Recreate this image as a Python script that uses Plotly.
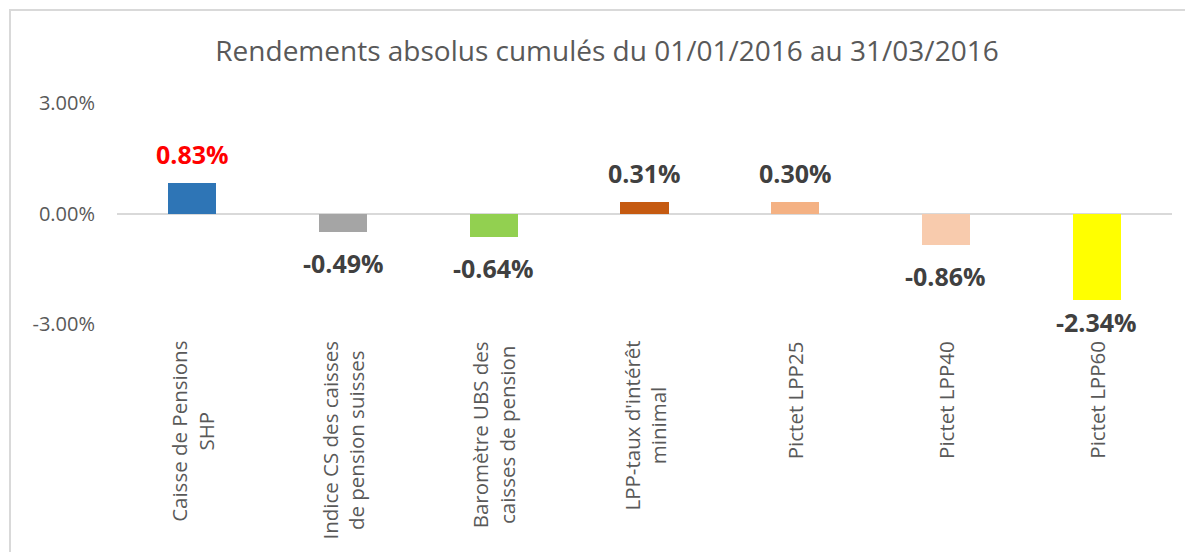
import plotly.graph_objects as go

categories = [
    "Caisse de Pensions<br>SHP",
    "Indice CS des caisses<br>de pension suisses",
    "Baromètre UBS des<br>caisses de pension",
    "LPP-taux d'intérêt<br>minimal",
    "Pictet LPP25",
    "Pictet LPP40",
    "Pictet LPP60",
]
values = [0.83, -0.49, -0.64, 0.31, 0.30, -0.86, -2.34]
colors = ["#2E75B6", "#A5A5A5", "#92D050", "#C55A11", "#F4B183", "#F8CBAD", "#FFFF00"]
label_colors = ["#FF0000", "#404040", "#404040", "#404040", "#404040", "#404040", "#404040"]
y_ticks = [-3, 0, 3]
y_tick_labels = ["-3.00%", "0.00%", "3.00%"]

W, H = 1185, 552
L, R, T, B = 117, 13, 103, 228
FONT = "Open Sans"

x_idx = list(range(len(categories)))

fig = go.Figure()
fig.add_trace(go.Bar(
    x=x_idx, y=values, marker=dict(color=colors, line=dict(width=0)),
    width=0.32, hoverinfo="skip",
))

annotations = []
for i, (v, c) in enumerate(zip(values, label_colors)):
    annotations.append(dict(
        x=i, y=v, xref="x", yref="y",
        text=f"{v:.2f}%", showarrow=False,
        font=dict(family=FONT, size=25, color=c, weight="bold"),
        yanchor="bottom" if v >= 0 else "top",
        yshift=10 if v >= 0 else (-12 if v > -2 else -3),
    ))
for i, cat in enumerate(categories):
    annotations.append(dict(
        x=i, y=0, xref="x", yref="paper",
        text=cat, showarrow=False, textangle=-90, align="center",
        font=dict(family=FONT, size=20.5, color="#595959"),
        yanchor="top", xanchor="center", yshift=-15,
    ))

plot_w = W - L - R
plot_h = H - T - B
fig.update_layout(
    width=W, height=H,
    margin=dict(l=L, r=R, t=T, b=B, autoexpand=False),
    paper_bgcolor="white", plot_bgcolor="white",
    showlegend=False,
    bargap=0,
    title=dict(
        text="Rendements absolus cumulés du 01/01/2016 au 31/03/2016",
        x=607 / W, xanchor="center", xref="container",
        y=1 - 51 / H, yanchor="middle", yref="container",
        font=dict(family=FONT, size=28, color="#595959"),
    ),
    xaxis=dict(
        range=[-0.5, len(categories) - 0.5],
        showticklabels=False, showgrid=False, zeroline=False, showline=False,
        fixedrange=True,
    ),
    yaxis=dict(
        range=[-3, 3], tickvals=y_ticks, ticktext=y_tick_labels,
        showgrid=True, gridcolor="#D9D9D9", gridwidth=2,
        zeroline=False, showline=False,
        tickfont=dict(family=FONT, size=20, color="#595959"),
        ticklabelstandoff=21,
    ),
    annotations=annotations,
    shapes=[dict(
        type="rect", xref="paper", yref="paper",
        x0=(10 - L) / plot_w, x1=(W + 50 - L) / plot_w,
        y0=(H - B - (H + 50)) / plot_h, y1=(H - B - 10) / plot_h,
        line=dict(color="#D9D9D9", width=2), fillcolor="rgba(0,0,0,0)",
        layer="below",
    )],
)

fig.write_html("out.html")
